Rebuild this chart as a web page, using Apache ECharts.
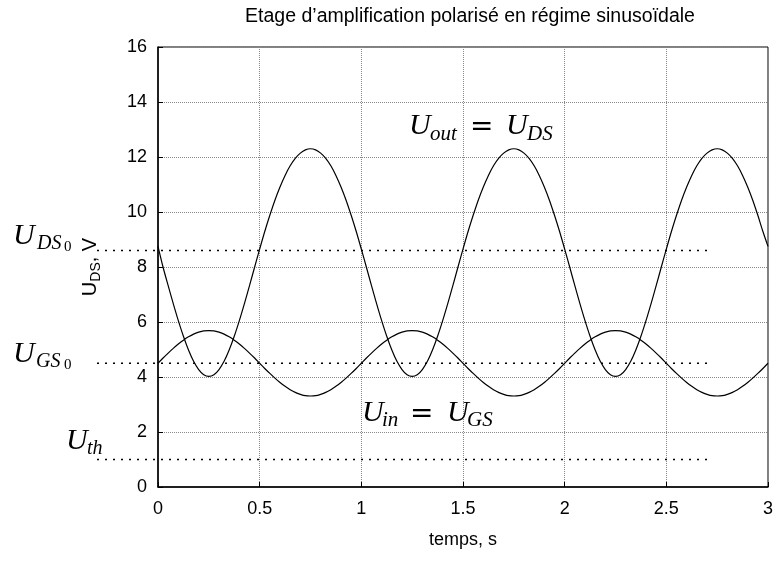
<!DOCTYPE html>
<html>
<head>
<meta charset="utf-8">
<script src="https://cdn.jsdelivr.net/npm/echarts@6/dist/echarts.min.js"></script>
<style>
    html, body { margin: 0; padding: 0; background: #fff; }
    #chart { width: 780px; height: 562px; }
</style>
</head>
<body>
<div id="chart"></div>
<script>
    // temps, s
    var temps = [
        0, 0.025, 0.05, 0.075, 0.1, 0.125, 0.15, 0.175, 0.2, 0.225, 0.25, 0.275, 0.3, 0.325, 0.35, 0.375, 0.4, 0.425, 0.45, 0.475,
        0.5, 0.525, 0.55, 0.575, 0.6, 0.625, 0.65, 0.675, 0.7, 0.725, 0.75, 0.775, 0.8, 0.825, 0.85, 0.875, 0.9, 0.925, 0.95, 0.975,
        1, 1.025, 1.05, 1.075, 1.1, 1.125, 1.15, 1.175, 1.2, 1.225, 1.25, 1.275, 1.3, 1.325, 1.35, 1.375, 1.4, 1.425, 1.45, 1.475,
        1.5, 1.525, 1.55, 1.575, 1.6, 1.625, 1.65, 1.675, 1.7, 1.725, 1.75, 1.775, 1.8, 1.825, 1.85, 1.875, 1.9, 1.925, 1.95, 1.975,
        2, 2.025, 2.05, 2.075, 2.1, 2.125, 2.15, 2.175, 2.2, 2.225, 2.25, 2.275, 2.3, 2.325, 2.35, 2.375, 2.4, 2.425, 2.45, 2.475,
        2.5, 2.525, 2.55, 2.575, 2.6, 2.625, 2.65, 2.675, 2.7, 2.725, 2.75, 2.775, 2.8, 2.825, 2.85, 2.875, 2.9, 2.925, 2.95, 2.975,
        3
    ];

    // U_out = U_DS
    var uds = [
        8.75, 7.99, 7.32, 6.67, 6.05, 5.48, 4.98, 4.57, 4.27, 4.08, 4.02, 4.08, 4.27, 4.57, 4.98, 5.48, 6.05, 6.67, 7.32, 7.99,
        8.65, 9.29, 9.88, 10.43, 10.91, 11.33, 11.68, 11.95, 12.14, 12.26, 12.3, 12.26, 12.14, 11.95, 11.68, 11.33, 10.91, 10.43, 9.88, 9.29,
        8.65, 7.99, 7.32, 6.67, 6.05, 5.48, 4.98, 4.57, 4.27, 4.08, 4.02, 4.08, 4.27, 4.57, 4.98, 5.48, 6.05, 6.67, 7.32, 7.99,
        8.65, 9.29, 9.88, 10.43, 10.91, 11.33, 11.68, 11.95, 12.14, 12.26, 12.3, 12.26, 12.14, 11.95, 11.68, 11.33, 10.91, 10.43, 9.88, 9.29,
        8.65, 7.99, 7.32, 6.67, 6.05, 5.48, 4.98, 4.57, 4.27, 4.08, 4.02, 4.08, 4.27, 4.57, 4.98, 5.48, 6.05, 6.67, 7.32, 7.99,
        8.65, 9.29, 9.88, 10.43, 10.91, 11.33, 11.68, 11.95, 12.14, 12.26, 12.3, 12.26, 12.14, 11.95, 11.68, 11.33, 10.91, 10.43, 9.88, 9.29,
        8.75
    ];

    // U_in = U_GS
    var ugs = [
        4.5, 4.69, 4.87, 5.04, 5.2, 5.34, 5.46, 5.56, 5.63, 5.68, 5.69, 5.68, 5.63, 5.56, 5.46, 5.34, 5.2, 5.04, 4.87, 4.69,
        4.5, 4.31, 4.13, 3.96, 3.8, 3.66, 3.54, 3.44, 3.37, 3.32, 3.31, 3.32, 3.37, 3.44, 3.54, 3.66, 3.8, 3.96, 4.13, 4.31,
        4.5, 4.69, 4.87, 5.04, 5.2, 5.34, 5.46, 5.56, 5.63, 5.68, 5.69, 5.68, 5.63, 5.56, 5.46, 5.34, 5.2, 5.04, 4.87, 4.69,
        4.5, 4.31, 4.13, 3.96, 3.8, 3.66, 3.54, 3.44, 3.37, 3.32, 3.31, 3.32, 3.37, 3.44, 3.54, 3.66, 3.8, 3.96, 4.13, 4.31,
        4.5, 4.69, 4.87, 5.04, 5.2, 5.34, 5.46, 5.56, 5.63, 5.68, 5.69, 5.68, 5.63, 5.56, 5.46, 5.34, 5.2, 5.04, 4.87, 4.69,
        4.5, 4.31, 4.13, 3.96, 3.8, 3.66, 3.54, 3.44, 3.37, 3.32, 3.31, 3.32, 3.37, 3.44, 3.54, 3.66, 3.8, 3.96, 4.13, 4.31,
        4.5
    ];

    // niveaux de polarisation : U_DS0, U_GS0, U_th
    var biasLevels = [8.6, 4.5, 1.0];
    var biasFrom = -0.3;
    var biasTo = 2.7;

    var chart = echarts.init(document.getElementById('chart'));

    function pairs(xs, ys) {
        var out = [];
        for (var i = 0; i < xs.length; i++) out.push([xs[i], ys[i]]);
        return out;
    }

    // petits morceaux de texte "LaTeX"
    function tex(str, x, y, size, italic, family) {
        return {
            type: 'text', x: x, y: y, z: 100,
            style: {
                text: str,
                font: (italic ? 'italic ' : '') + size + 'px ' + (family || '"Liberation Serif"'),
                fill: '#000',
                align: 'left',
                verticalAlign: 'middle'
            }
        };
    }

    var biasSeries = biasLevels.map(function (v) {
        return {
            type: 'line',
            xAxisIndex: 1,
            yAxisIndex: 1,
            symbol: 'none',
            silent: true,
            data: [[biasFrom, v], [biasTo, v]],
            lineStyle: { color: '#000', width: 1.5, type: [2, 6] }
        };
    });

    var axisFont = { color: '#000', fontSize: 18, fontFamily: 'Liberation Sans' };
    var plotLeft = 158, plotRight = 12;

    var option = {
        animation: false,
        backgroundColor: '#fff',
        title: {
            text: 'Etage d\u2019amplification polarisé en régime sinusoïdale',
            left: 465,
            top: 2,
            textAlign: 'center',
            textStyle: { fontSize: 19.5, fontWeight: 'normal', color: '#000', fontFamily: 'Liberation Sans' }
        },
        grid: [
            { left: plotLeft, right: plotRight, top: 47, bottom: 75, show: true, borderColor: '#000', borderWidth: 1 },
            { left: 0, right: plotRight, top: 47, bottom: 75, show: false }
        ],
        xAxis: [
            {
                type: 'value', gridIndex: 0, min: 0, max: 3, interval: 0.5,
                name: 'temps, s', nameLocation: 'middle', nameGap: 44,
                nameTextStyle: { color: '#000', fontSize: 18, fontFamily: 'Liberation Sans' },
                axisLine: { lineStyle: { color: '#000', width: 1.5 } },
                axisTick: { inside: true, length: 5, lineStyle: { color: '#000' } },
                axisLabel: Object.assign({ margin: 13 }, axisFont),
                splitLine: { show: true, lineStyle: { color: '#888', type: 'dotted', width: 1 } }
            },
            {
                type: 'value', gridIndex: 1, show: false,
                min: -plotLeft * 3 / (780 - plotLeft - plotRight), max: 3
            }
        ],
        yAxis: [
            {
                type: 'value', gridIndex: 0, min: 0, max: 16, interval: 2,
                name: 'U{sub|DS}, V', nameLocation: 'middle', nameGap: 55, nameRotate: 90,
                nameTextStyle: {
                    color: '#000', fontSize: 20, fontFamily: 'Liberation Sans', lineHeight: 26,
                    rich: { sub: { fontSize: 14, fontFamily: 'Liberation Sans', lineHeight: 14, verticalAlign: 'bottom' } }
                },
                axisLine: { show: true, lineStyle: { color: '#000', width: 1.5 } },
                axisTick: { inside: true, length: 5, lineStyle: { color: '#000' } },
                axisLabel: Object.assign({ margin: 11 }, axisFont),
                splitLine: { show: true, lineStyle: { color: '#888', type: 'dotted', width: 1 } }
            },
            { type: 'value', gridIndex: 1, show: false, min: 0, max: 16 }
        ],
        series: [
            {
                name: 'U_DS', type: 'line', symbol: 'none', smooth: 0.3,
                data: pairs(temps, uds),
                lineStyle: { color: '#000', width: 1.2 }
            },
            {
                name: 'U_GS', type: 'line', symbol: 'none', smooth: 0.3,
                data: pairs(temps, ugs),
                lineStyle: { color: '#000', width: 1.2 }
            }
        ].concat(biasSeries),
        graphic: [
            tex('U', 13, 236, 30, true), tex('DS', 37, 244, 20, true), tex('0', 64, 247, 15, false),
            tex('U', 13, 354, 30, true), tex('GS', 36, 362, 20, true), tex('0', 64, 365, 15, false),
            tex('U', 66, 441, 30, true), tex('th', 87, 449, 20, true),
            tex('U', 409, 126, 30, true), tex('out', 430, 134, 21, true), tex('=', 470, 128, 28, false, '"DejaVu Serif"'),
            tex('U', 506, 126, 30, true), tex('DS', 527, 134, 21, true),
            tex('U', 362, 413, 30, true), tex('in', 382, 420, 21, true), tex('=', 410, 415, 28, false, '"DejaVu Serif"'),
            tex('U', 447, 413, 30, true), tex('GS', 467, 420, 21, true)
        ]
    };

    chart.setOption(option);
</script>
</body>
</html>
